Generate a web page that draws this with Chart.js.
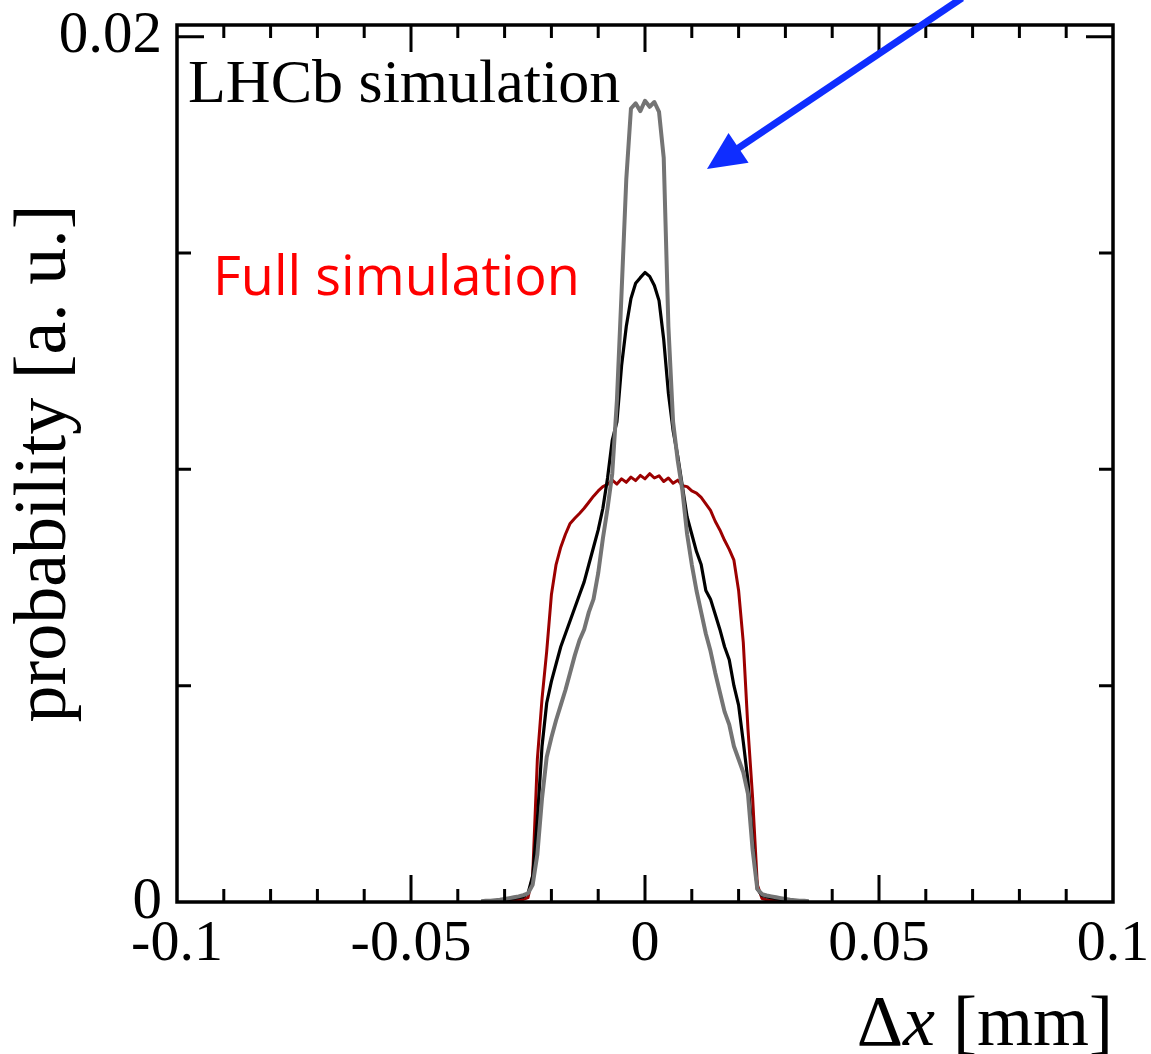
<!DOCTYPE html>
<html>
<head>
<meta charset="utf-8">
<script src="https://cdn.jsdelivr.net/npm/chart.js@4.4.1/dist/chart.umd.min.js"></script>
<style>
  html, body { margin: 0; padding: 0; background: #fff; }
  canvas { display: block; }
</style>
</head>
<body>
<canvas id="plot" width="1151" height="1054"></canvas>
<script>
// Binning of the Δx histograms (bin centres, mm)
const BIN_FIRST = -0.035;
const BIN_WIDTH = 0.001;

// Full simulation (dark red), one value per bin from -0.035 to 0.035 mm
const fullSimulation = [
  0, 0, 0, 0, 0, 0.00002, 0.00003, 0.00004, 0.00005,
  0.00006, 0.0001, 0.0006, 0.0033, 0.0047, 0.0058, 0.0071, 0.0078, 0.0082, 0.0085,
  0.00875, 0.00887, 0.00898, 0.0091, 0.00924, 0.00938, 0.0095, 0.0096, 0.00965, 0.00975,
  0.00966, 0.00978, 0.0097, 0.00982, 0.00974, 0.00986, 0.00978, 0.0099, 0.0098, 0.00985,
  0.00972, 0.0098, 0.00968, 0.00975, 0.00962, 0.0096, 0.0095, 0.00945, 0.00935, 0.0092,
  0.00905, 0.0088, 0.0086, 0.00836, 0.00815, 0.0079, 0.0072, 0.006, 0.004, 0.0024,
  0.0004, 0.00008, 0.00005,
  0.00004, 0.00003, 0.00002, 0.00002, 0, 0, 0, 0, 0
];

// Black histogram
const blackHistogram = [
  0.00001, 0.00002, 0.00002, 0.00003, 0.00004, 0.00005, 0.00006, 0.00008, 0.0001,
  0.00012, 0.0002, 0.0006, 0.0019, 0.0036, 0.0046, 0.0051, 0.0055, 0.0059, 0.0062,
  0.0065, 0.0068, 0.0071, 0.0074, 0.0078, 0.0082, 0.0086, 0.0091, 0.0098, 0.01067,
  0.0111, 0.0124, 0.0133, 0.01395, 0.0143, 0.01443, 0.01455, 0.01446, 0.01425, 0.0139,
  0.013, 0.01176, 0.0109, 0.0103, 0.0096, 0.0089, 0.0085, 0.0081, 0.0078, 0.0072,
  0.007, 0.00665, 0.0063, 0.0059, 0.0056, 0.005, 0.00455, 0.0037, 0.0028, 0.0014,
  0.0003, 0.00015, 0.00012,
  0.0001, 0.00008, 0.00006, 0.00005, 0.00004, 0.00003, 0.00002, 0.00002, 0.00001
];

// Grey histogram
const greyHistogram = [
  0.00002, 0.00003, 0.00003, 0.00004, 0.00005, 0.00007, 0.00009, 0.00011, 0.00013,
  0.00016, 0.0002, 0.0004, 0.0011, 0.0024, 0.00335, 0.0038, 0.0042, 0.00455, 0.0049,
  0.0053, 0.0057, 0.00605, 0.0063, 0.0067, 0.007, 0.0076, 0.0084, 0.0091, 0.0099,
  0.0116, 0.0141, 0.0167, 0.01834, 0.01846, 0.01828, 0.01852, 0.01838, 0.01849, 0.01826,
  0.0172, 0.0133, 0.0111, 0.0102, 0.0095, 0.0085, 0.0078, 0.0072, 0.0067, 0.0062,
  0.0058, 0.0053, 0.00485, 0.0044, 0.0041, 0.0036, 0.0033, 0.003, 0.0025, 0.0012,
  0.0003, 0.00018, 0.00015,
  0.00013, 0.00011, 0.00009, 0.00007, 0.00005, 0.00004, 0.00003, 0.00003, 0.00002
];

// Axis ticks
const xTickValues = [-0.1, -0.05, 0, 0.05, 0.1];
const xTickLabels = ['-0.1', '-0.05', '0', '0.05', '0.1'];
const xMajorMarks = [-0.05, 0, 0.05];
const xMinorMarks = [-0.09, -0.08, -0.07, -0.06, -0.04, -0.03, -0.02, -0.01,
                     0.01, 0.02, 0.03, 0.04, 0.06, 0.07, 0.08, 0.09];
const yTickValues = [0, 0.02];
const yTickLabels = ['0', '0.02'];
const yMajorMarks = [0.02];
const yMinorMarks = [0.005, 0.01, 0.015];

const X_MIN = -0.1, X_MAX = 0.1, Y_MIN = 0, Y_MAX = 0.02027;

const toPoints = values => values.map((v, i) => ({ x: +(BIN_FIRST + i * BIN_WIDTH).toFixed(4), y: v }));

const SERIF = '"Liberation Serif", "Times New Roman", serif';

// Frame with inward tick marks on all four sides
const frameAndTicks = {
  id: 'frameAndTicks',
  afterDatasetsDraw(chart) {
    const { ctx, chartArea: a, scales: { x, y } } = chart;
    ctx.save();
    ctx.strokeStyle = '#000';
    ctx.lineWidth = 3;
    ctx.beginPath();
    const xMark = (v, len) => {
      const px = x.getPixelForValue(v);
      ctx.moveTo(px, a.bottom); ctx.lineTo(px, a.bottom - len);
      ctx.moveTo(px, a.top); ctx.lineTo(px, a.top + len);
    };
    const yMark = (v, len) => {
      const py = y.getPixelForValue(v);
      ctx.moveTo(a.left, py); ctx.lineTo(a.left + len, py);
      ctx.moveTo(a.right, py); ctx.lineTo(a.right - len, py);
    };
    xMinorMarks.forEach(v => xMark(v, 13));
    xMajorMarks.forEach(v => xMark(v, 27));
    yMinorMarks.forEach(v => yMark(v, 14));
    yMajorMarks.forEach(v => yMark(v, 27));
    ctx.stroke();
    ctx.lineWidth = 3.5;
    ctx.strokeRect(a.left, a.top, a.right - a.left, a.bottom - a.top);
    ctx.restore();
  }
};

// Labels, arrow and the x-axis title
const annotations = {
  id: 'annotations',
  afterDraw(chart) {
    const { ctx, chartArea: a } = chart;
    ctx.save();
    ctx.textBaseline = 'alphabetic';
    ctx.textAlign = 'left';

    ctx.fillStyle = '#000';
    ctx.font = '62px ' + SERIF;
    ctx.fillText('LHCb simulation', a.left + 11, 102);

    ctx.fillStyle = '#ff0000';
    ctx.font = '54px "Open Sans", "Noto Sans", sans-serif';
    ctx.fillText('Full simulation', a.left + 36, 295);

    // blue arrow
    const tip = { x: 707, y: 169 };
    const start = { x: 962, y: -2 };
    const ang = Math.atan2(tip.y - start.y, tip.x - start.x);
    const headLen = 38, halfW = 18;
    const base = { x: tip.x - headLen * Math.cos(ang), y: tip.y - headLen * Math.sin(ang) };
    ctx.strokeStyle = '#0f2dff';
    ctx.fillStyle = '#0f2dff';
    ctx.lineWidth = 7;
    ctx.beginPath();
    ctx.moveTo(start.x, start.y);
    ctx.lineTo(base.x + 4 * Math.cos(ang), base.y + 4 * Math.sin(ang));
    ctx.stroke();
    ctx.beginPath();
    ctx.moveTo(tip.x, tip.y);
    ctx.lineTo(base.x + halfW * Math.sin(ang), base.y - halfW * Math.cos(ang));
    ctx.lineTo(base.x - halfW * Math.sin(ang), base.y + halfW * Math.cos(ang));
    ctx.closePath();
    ctx.fill();

    // x-axis title: Δx [mm] with italic x, right-aligned to the frame
    ctx.fillStyle = '#000';
    const upright = '72px ' + SERIF, slanted = 'italic 72px ' + SERIF;
    const parts = [['Δ', upright], ['x', slanted], [' [mm]', upright]];
    let total = 0;
    parts.forEach(([t, f]) => { ctx.font = f; total += ctx.measureText(t).width; });
    let px = a.right - total;
    parts.forEach(([t, f]) => { ctx.font = f; ctx.fillText(t, px, 1045); px += ctx.measureText(t).width; });
    ctx.restore();
  }
};

new Chart(document.getElementById('plot'), {
  type: 'line',
  data: {
    datasets: [
      { label: 'grey', data: toPoints(greyHistogram), borderColor: '#747474', borderWidth: 4 },
      { label: 'black', data: toPoints(blackHistogram), borderColor: '#000000', borderWidth: 3.2 },
      { label: 'Full simulation', data: toPoints(fullSimulation), borderColor: '#9c0000', borderWidth: 3 }
    ]
  },
  options: {
    responsive: false,
    animation: false,
    devicePixelRatio: 1,
    elements: { point: { radius: 0 }, line: { tension: 0, borderJoinStyle: 'round' } },
    layout: { padding: { left: 0, right: 38, top: 25, bottom: 0 } },
    plugins: { legend: { display: false }, tooltip: { enabled: false } },
    scales: {
      x: {
        type: 'linear',
        min: X_MIN, max: X_MAX,
        grid: { display: false, drawTicks: false },
        border: { display: false },
        afterBuildTicks: s => { s.ticks = xTickValues.map(v => ({ value: v })); },
        afterFit: s => { s.height = 152; s.paddingLeft = 0; s.paddingRight = 0; },
        ticks: {
          autoSkip: false, maxRotation: 0, padding: 8, color: '#000',
          font: { family: SERIF, size: 58 },
          callback: v => xTickLabels[xTickValues.indexOf(v)] ?? ''
        }
      },
      y: {
        type: 'linear',
        min: Y_MIN, max: Y_MAX,
        grid: { display: false, drawTicks: false },
        border: { display: false },
        afterBuildTicks: s => { s.ticks = yTickValues.map(v => ({ value: v })); },
        afterFit: s => { s.width = 177; s.paddingTop = 0; s.paddingBottom = 0; },
        ticks: {
          padding: 15, color: '#000',
          font: { family: SERIF, size: 59 },
          callback: v => yTickLabels[yTickValues.indexOf(v)] ?? ''
        },
        title: {
          display: true, text: 'probability [a. u.]', color: '#000',
          font: { family: SERIF, size: 74 },
          padding: { top: 1, bottom: 0 }
        }
      }
    }
  },
  plugins: [frameAndTicks, annotations]
});
</script>
</body>
</html>
